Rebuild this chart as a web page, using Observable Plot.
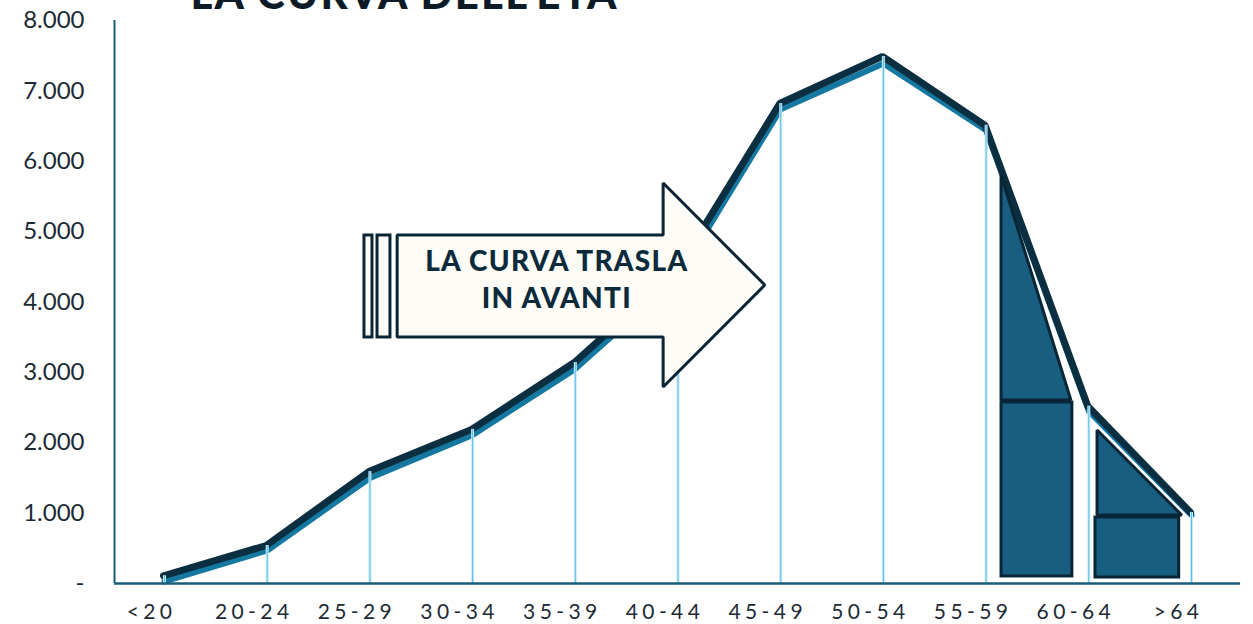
<!DOCTYPE html>
<html>
<head>
<meta charset="utf-8">
<script src="https://cdn.jsdelivr.net/npm/d3@7"></script>
<script src="https://cdn.jsdelivr.net/npm/@observablehq/plot@0.6"></script>
<style>
  html, body { margin: 0; padding: 0; background: #ffffff; }
  #chart { width: 1253px; height: 624px; overflow: hidden; }
  g[aria-label="x-axis tick label"] text { letter-spacing: 4.4px; }
</style>
</head>
<body>
<div id="chart"></div>
<script>
// ---- data ----
const ageGroups = ["<20", "20-24", "25-29", "30-34", "35-39", "40-44", "45-49", "50-54", "55-59", "60-64", ">64"];
const frontLine = [110, 540, 1590, 2190, 3140, 4450, 6820, 7490, 6510, 2520, 1010];
const shadowLine = [30, 470, 1500, 2110, 3050, 4350, 6740, 7390, 6440, 2450, 970];
const yTicks = [0, 1000, 2000, 3000, 4000, 5000, 6000, 7000, 8000];
const titleText = "LA CURVA DELL'ETÀ";
const arrowLines = ["LA CURVA TRASLA", "IN AVANTI"];

// annotation shapes (category index units / value units)
const triangleA = [{x: 8.15, lo: 2600, hi: 5800}, {x: 8.83, lo: 2600, hi: 2600}];
const triangleB = [{x: 9.085, lo: 965, hi: 2175}, {x: 9.91, lo: 965, hi: 965}];
const blocks = [
  {x1: 8.15, x2: 8.84, y1: 100, y2: 2572},
  {x1: 9.065, x2: 9.88, y1: 85, y2: 938}
];
const arrowShape = [
  {x: 2.27, lo: 3496, hi: 4945},
  {x: 4.86, lo: 3496, hi: 4945},
  {x: 4.86, lo: 2785, hi: 5684},
  {x: 5.85, lo: 4234, hi: 4234}
];
const arrowBars = [
  {x1: 1.947, x2: 2.025, y1: 3496, y2: 4945},
  {x1: 2.074, x2: 2.2, y1: 3496, y2: 4945}
];
const arrowTextPos = [{x: 3.81, y: 4570}, {x: 3.81, y: 4040}];

// ---- build ----
const idx = d3.range(ageGroups.length);
const front = idx.map(i => ({i, v: frontLine[i]}));
const shadow = idx.map(i => ({i, v: shadowLine[i]}));
const fmtY = d => d === 0 ? "-" : d3.format(",")(d).replace(/,/g, ".");

const DARK = "#0b2f41";
const BLUE = "#1478a1";
const FILL = "#185e80";
const EDGE = "#0a2636";
const AXIS = "#1b5c79";

const chart = Plot.plot({
  width: 1253,
  height: 624,
  marginLeft: 114,
  marginRight: 13,
  marginTop: 20,
  marginBottom: 41,
  style: {fontFamily: "Lato, 'Open Sans', sans-serif", background: "#ffffff", overflow: "visible"},
  x: {domain: [-0.487, 10.477], axis: null},
  y: {domain: [0, 8000], axis: null},
  marks: [
    // title (cut off at top)
    Plot.text([titleText], {frameAnchor: "top-left", dx: 76, dy: -12, lineAnchor: "bottom", textAnchor: "start",
      fontSize: 42, fontWeight: 900, fill: "#0d1b26", fontFamily: "Lato, sans-serif"}),
    // axes
    Plot.axisY({ticks: yTicks, tickSize: 0, tickPadding: 30, tickFormat: fmtY, fontSize: 24, fill: "#1c2a35"}),
    Plot.axisX({ticks: idx, tickFormat: i => ageGroups[i], tickSize: 0, tickPadding: 21, dx: -13, fontSize: 21, fill: "#1c2a35"}),
    Plot.ruleX([-0.487], {y1: 0, y2: 8000, stroke: AXIS, strokeWidth: 2}),
    // lines
    Plot.line(shadow, {x: "i", y: "v", stroke: BLUE, strokeWidth: 6, strokeLinejoin: "miter", strokeLinecap: "round"}),
    Plot.line(front, {x: "i", y: "v", stroke: DARK, strokeWidth: 7, strokeLinejoin: "miter", strokeLinecap: "round", dx: -1}),
    // drop lines
    Plot.ruleX(front, {x: "i", y1: 0, y2: "v", stroke: "#c6e9f7", strokeWidth: 3}),
    Plot.ruleX(front, {x: "i", y1: 0, y2: "v", stroke: "#5cc0e8", strokeWidth: 1}),
    Plot.ruleY([0], {stroke: AXIS, strokeWidth: 2.5}),
    // shaded shapes
    Plot.areaY(triangleA, {x: "x", y1: "lo", y2: "hi", fill: FILL, stroke: EDGE, strokeWidth: 3, strokeLinejoin: "miter"}),
    Plot.areaY(triangleB, {x: "x", y1: "lo", y2: "hi", fill: FILL, stroke: EDGE, strokeWidth: 3, strokeLinejoin: "miter"}),
    Plot.rect(blocks, {x1: "x1", x2: "x2", y1: "y1", y2: "y2", fill: FILL, stroke: EDGE, strokeWidth: 3}),
    // arrow
    Plot.areaY(arrowShape, {x: "x", y1: "lo", y2: "hi", fill: "#fdfcf6", stroke: EDGE, strokeWidth: 3, strokeLinejoin: "miter"}),
    Plot.rect(arrowBars, {x1: "x1", x2: "x2", y1: "y1", y2: "y2", fill: "#fdfcf6", stroke: EDGE, strokeWidth: 3}),
    Plot.text(arrowTextPos, {x: "x", y: "y", text: (d, i) => arrowLines[i], fontSize: 28, fontWeight: 900, dx: 1,
      fill: "#0b2a3b", fontFamily: "Lato, sans-serif"})
  ]
});
// letter spacing tweaks for the decorative texts
d3.select(chart).selectAll("text").each(function () {
  const t = this.textContent;
  if (t === titleText) this.style.letterSpacing = "2.2px";
  if (arrowLines.includes(t)) this.style.letterSpacing = "1.3px";
});
document.getElementById("chart").appendChild(chart);
</script>
</body>
</html>
